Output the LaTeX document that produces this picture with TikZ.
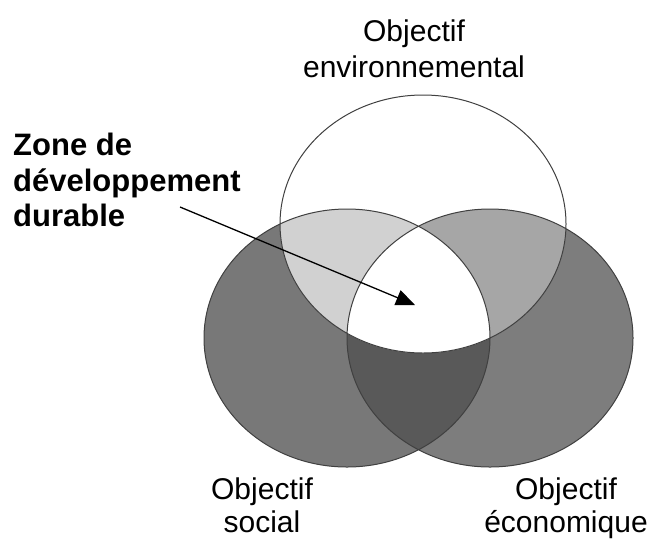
\documentclass[tikz,border=0pt]{standalone}
\usepackage{fontspec}
\setmainfont{Liberation Sans}
\usepackage{xcolor}
\usepackage{tikz}
\usetikzlibrary{arrows.meta}
\definecolor{socialgray}{gray}{0.47}
\definecolor{ecogray}{gray}{0.49}
\definecolor{soenvgray}{gray}{0.82}
\definecolor{ecenvgray}{gray}{0.65}
\definecolor{soecgray}{gray}{0.35}
\definecolor{rimgray}{gray}{0.25}
\tikzstyle{blob} = [draw=rimgray, line width=1pt]
\tikzstyle{goal} = [anchor=north, inner sep=0pt, align=center, font=\fontsize{30}{36}\selectfont]
\tikzstyle{lowgoal} = [goal, font=\fontsize{30}{33}\selectfont]
\tikzstyle{zone} = [anchor=north west, inner sep=0pt, align=left, font=\bfseries\fontsize{31}{35.5}\selectfont]
\tikzstyle{arrow} = [line width=1.3pt, -{Triangle[length=19pt,width=16pt]}]

\begin{document}
\begin{tikzpicture}[x=1pt, y=-1pt]
        \useasboundingbox (0,0) rectangle (663,542);

        % Circle centres
        \coordinate (env) at (423,224);
        \coordinate (social) at (347,338);
        \coordinate (eco) at (490,338);
        \def\envshape{(env) ellipse [x radius=143, y radius=129]}
        \def\socialshape{(social) ellipse [x radius=143, y radius=129]}
        \def\ecoshape{(eco) ellipse [x radius=143, y radius=129]}

        % Fills
        \fill[socialgray] \socialshape;
        \fill[ecogray] \ecoshape;
        \begin{scope}
          \clip \socialshape;
          \fill[soecgray] \ecoshape;
        \end{scope}
        \fill[white] \envshape;
        \begin{scope}
          \clip \envshape;
          \fill[soenvgray] \socialshape;
          \fill[ecenvgray] \ecoshape;
        \end{scope}
        \begin{scope}
          \clip \envshape;
          \clip \socialshape;
          \fill[white] \ecoshape;
        \end{scope}

        % Outlines
        \draw[blob] \socialshape \ecoshape \envshape;

        % Labels
        \node (envlabel) [goal] at (414,20) {Objectif\\environnemental};
        \node (sociallabel) [lowgoal] at (262,478) {Objectif\\social};
        \node (ecolabel) [lowgoal] at (566,478) {Objectif\\économique};
        \node (zonelabel) [zone] at (13,133) {Zone de\\développement\\durable};

        % Arrow
        \coordinate (tail) at (180,207);
        \coordinate (core) at (415,305);
        \draw [arrow] (tail) -- (core);
      \end{tikzpicture}
\end{document}
